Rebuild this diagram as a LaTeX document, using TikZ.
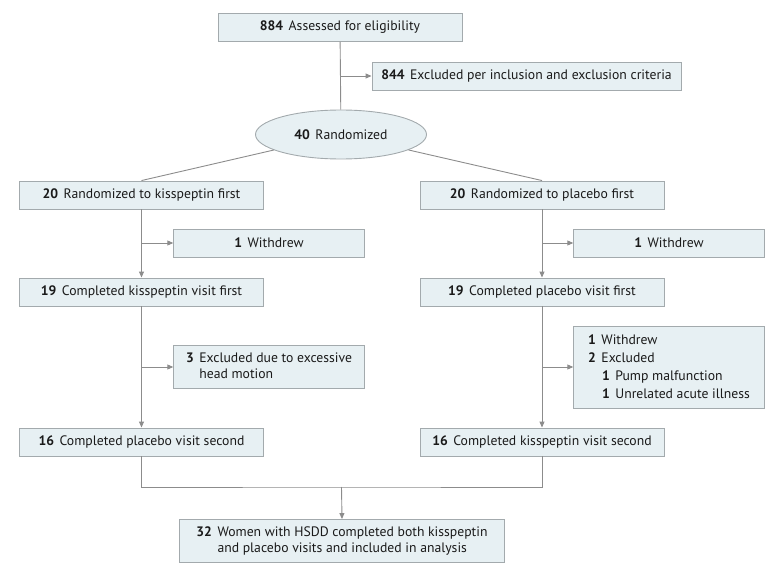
\documentclass[tikz,border=0pt]{standalone}
\usepackage{fontspec}
\setmainfont{PT Sans}
\usetikzlibrary{arrows.meta,shapes.geometric}
\definecolor{boxfill}{HTML}{E7F0F3}
\definecolor{boxline}{HTML}{A3AAAD}
\definecolor{conn}{HTML}{8C8C8C}
\definecolor{txt}{HTML}{1A1A1A}
\newcommand{\nm}[1]{\textbf{#1}\hspace{5.5pt}}
\begin{document}
\begin{tikzpicture}[x=1pt,y=-1pt,
  every node/.style={font=\fontsize{13.7}{16.2}\selectfont, text=txt},
  flowbox/.style={draw=boxline, fill=boxfill, line width=0.9pt, inner sep=0pt, minimum height=28pt, align=center},
  ellbox/.style={ellipse, draw=boxline, fill=boxfill, line width=0.9pt, inner sep=0pt, minimum width=171pt, minimum height=49pt},
  conline/.style={draw=conn, line width=0.9pt},
  conarrow/.style={conline, -{Triangle[length=6pt,width=5pt]}}
]
\useasboundingbox (0,0) rectangle (780,578);
\node[flowbox, minimum width=244pt] (top) at (340,27.4) {\nm{884}Assessed for eligibility};
\node[flowbox, minimum width=309pt] (excl) at (526.5,76) {\nm{844}Excluded per inclusion and exclusion criteria};
\node[ellbox] (ell) at (341,134.5) {\nm{40}Randomized};
\node[flowbox, minimum width=244pt] (L20) at (141.5,195) {\nm{20}Randomized to kisspeptin first};
\node[flowbox, minimum width=244pt] (R20) at (542,195) {\nm{20}Randomized to placebo first};
\node[flowbox, minimum width=190.5pt] (LW) at (269,243) {\nm{1}Withdrew};
\node[flowbox, minimum width=190.5pt] (RW) at (669,243) {\nm{1}Withdrew};
\node[flowbox, minimum width=244pt] (L19) at (141.5,292) {\nm{19}Completed kisspeptin visit first};
\node[flowbox, minimum width=244pt] (R19) at (542,292) {\nm{19}Completed placebo visit first};
\node[flowbox, minimum width=190.5pt, minimum height=43.6pt] (LX) at (269,367)
  {\begin{tabular}{@{}r@{\hspace{5.5pt}}l@{}}\textbf{3} & Excluded due to excessive\\ & head motion\end{tabular}};
\node[flowbox, minimum width=190.5pt, minimum height=82pt, align=left, font=\fontsize{13.7}{18}\selectfont] (RX) at (669,367)
  {\nm{1}Withdrew\\ \nm{2}Excluded\\ \hspace{14pt}\nm{1}Pump malfunction\\ \hspace{14pt}\nm{1}Unrelated acute illness};
\node[flowbox, minimum width=244pt] (L16) at (141.5,442) {\nm{16}Completed placebo visit second};
\node[flowbox, minimum width=244pt] (R16) at (542,442) {\nm{16}Completed kisspeptin visit second};
\node[flowbox, minimum width=325pt, minimum height=43pt] (F) at (342,541)
  {\begin{tabular}{@{}r@{\hspace{5.5pt}}l@{}}\textbf{32} & Women with HSDD completed both kisspeptin\\ & and placebo visits and included in analysis\end{tabular}};
\coordinate (j) at (341.5,487);
% connectors
\draw[conline] (top) -- (ell);
\draw[conarrow] (top.south |- excl.west) -- (excl.west);
\draw[conline] (ell) -- (L20.north);
\draw[conline] (ell) -- (R20.north);
\draw[conarrow] (L20) -- (L19);
\draw[conarrow] (R20) -- (R19);
\draw[conarrow] (L20.south |- LW.west) -- (LW.west);
\draw[conarrow] (R20.south |- RW.west) -- (RW.west);
\draw[conarrow] (L19) -- (L16);
\draw[conarrow] (R19) -- (R16);
\draw[conarrow] (L19.south |- LX.west) -- (LX.west);
\draw[conarrow] (R19.south |- RX.west) -- (RX.west);
\draw[conline] (L16.south) |- (j) -| (R16.south);
\draw[conarrow] (j) -- (F.north);
\end{tikzpicture}
\end{document}
